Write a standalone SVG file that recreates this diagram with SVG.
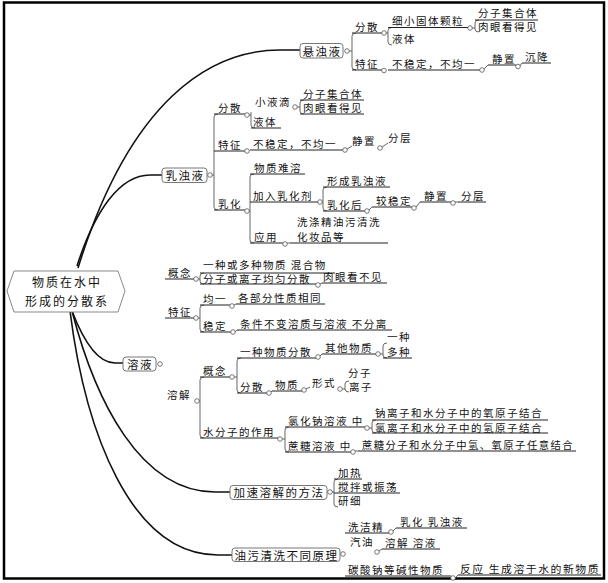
<svg xmlns="http://www.w3.org/2000/svg" width="608" height="583" viewBox="0 0 608 583">
<style>
.t{font-family:"Noto Sans CJK SC","Noto Sans",sans-serif;font-size:10.5px;letter-spacing:1.5px;fill:#111}
.b{font-size:11.5px}
.r{font-size:12px;letter-spacing:2px}
.u{stroke:#222;stroke-width:1;fill:none}
.c{stroke:#555;stroke-width:0.9;fill:none}
.h{fill:#fff;stroke:#555;stroke-width:0.8}
.bx{fill:#fff;stroke:#777;stroke-width:1}
.m{stroke:#111;stroke-width:1.6;fill:none}
</style>
<rect x="0" y="0" width="608" height="583" fill="#fff"/>
<rect x="4" y="2.5" width="600" height="576" fill="none" stroke="#000" stroke-width="2.5"/>

<g id="connectors">
  <path class="m" d="M78,268 C130,100 210,50 280,50 L300,50"/>
  <path class="m" d="M77,266 C95,210 120,175 150,175 L162,175"/>
  <path class="m" d="M72,311 C85,345 100,363 115,363 L123,363"/>
  <path class="m" d="M72,311 C95,400 140,492 215,492 L230,492"/>
  <path class="m" d="M70,311 C85,430 130,555 218,555 L232,555"/>
  <path class="c" d="M349,51 H352 M356,33 Q352,33 352,36 V67 Q352,70 356,70"/>
  <path class="c" d="M386,33 H388 M392,27.5 Q388,27.5 388,30.5 V42 Q388,45 392,45"/>
  <path class="c" d="M472,28 H475 M479,20 Q475,20 475,23 V29 Q475,32 479,32"/>
  <path class="c" d="M484,69 L488,65 M520,66 L522,63"/>
  <path class="c" d="M212,175 H214 M218,114 Q214,114 214,117 V207 Q214,210 218,210"/>
  <path class="c" d="M249,115 H251 M251,112 V125 Q251,128 255,128"/>
  <path class="c" d="M297,107 H300 M304,100 Q300,100 300,103 V111 Q300,114 304,114"/>
  <path class="c" d="M347,149 L352,146 M382,147 L388,143"/>
  <path class="c" d="M249,211 H250 M254,174 Q250,174 250,177 V240 Q250,243 254,243"/>
  <path class="c" d="M322,202 H323 M327,187 Q323,187 323,190 V208 Q323,211 327,211"/>
  <path class="c" d="M369,210 L372,207 M416,207 L420,202 M455,202 L458,202 M287,243 L290,243"/>
  <path class="c" d="M198,279 H200 M204,273 Q200,273 200,276 V281 Q200,284 204,284"/>
  <path class="c" d="M320,284 L322,283"/>
  <path class="c" d="M198,318 H200 M204,305 Q200,305 200,308 V329 Q200,332 204,332"/>
  <path class="c" d="M234,305 L236,304 M235,332 L237,330"/>
  <path class="c" d="M199,401 H200 M204,377 Q200,377 200,380 V435 Q200,438 204,438"/>
  <path class="c" d="M234,377 H237 M241,358 Q237,358 237,361 V390 Q237,393 241,393"/>
  <path class="c" d="M320,356 L322,354 M380,354 H383 M387,343 Q383,343 383,346 V355 Q383,358 387,358"/>
  <path class="c" d="M271,392 L272,391 M306,389 L310,387 M342,389 H345 M349,381 Q345,381 345,384 V389 Q345,392 349,392"/>
  <path class="c" d="M282,439 H285 M289,427 Q285,427 285,430 V449 Q285,452 289,452"/>
  <path class="c" d="M369,428 H372 M376,420 Q372,420 372,423 V430 Q372,433 376,433"/>
  <path class="c" d="M355,451 L358,451"/>
  <path class="c" d="M332,492 H334 M338,479 Q334,479 334,482 V504 Q334,507 338,507"/>
  <path class="c" d="M393,531 L396,528 M379,551 L382,549 M455,578 L458,575"/>
</g>

<g id="root">
  <polygon points="14,271 118,271 125,291 118,312 14,312 7,291" fill="#fff" stroke="#888" stroke-width="1"/>
  <text class="t r" x="67" y="287" text-anchor="middle">物质在水中</text>
  <text class="t r" x="67" y="305.5" text-anchor="middle">形成的分散系</text>
</g>

<g id="n-xzy">
  <rect class="bx" x="300" y="43.5" width="43" height="14.5" rx="3"/>
  <text class="t b" x="322" y="55.5" text-anchor="middle">悬浊液</text>
  <circle class="h" cx="347" cy="51" r="2.3"/>
</g>
<g id="n-xzy-fs"><text class="t" x="355" y="30.5">分散</text><path class="u" d="M352,33 H382"/><circle class="h" cx="384" cy="33" r="2.3"/></g>
<g id="n-xzy-kl"><text class="t" x="392" y="25">细小固体颗粒</text><path class="u" d="M388,27.5 H468"/><circle class="h" cx="470" cy="28" r="2.3"/></g>
<g id="n-xzy-fzjht"><text class="t" x="478" y="17">分子集合体</text><path class="u" d="M475,20 H538"/></g>
<g id="n-xzy-rykdj"><text class="t" x="478" y="31">肉眼看得见</text></g>
<g id="n-xzy-yt"><text class="t" x="392" y="43">液体</text></g>
<g id="n-xzy-tz"><text class="t" x="355" y="67.5">特征</text><path class="u" d="M352,70 H382"/><circle class="h" cx="384" cy="70.5" r="2.3"/></g>
<g id="n-xzy-bwd"><text class="t" x="392" y="67.5">不稳定，不均一</text><path class="u" d="M388,70 H480"/><circle class="h" cx="482" cy="70" r="2.3"/></g>
<g id="n-xzy-jz"><text class="t" x="492" y="62.5">静置</text><path class="u" d="M488,65 H516"/><circle class="h" cx="518" cy="66.5" r="2.3"/></g>
<g id="n-xzy-cj"><text class="t" x="525" y="60.5">沉降</text><path class="u" d="M522,63 H551"/></g>

<g id="n-rzy">
  <rect class="bx" x="162" y="168" width="45" height="14.5" rx="3"/>
  <text class="t b" x="185" y="180" text-anchor="middle">乳浊液</text>
  <circle class="h" cx="210" cy="175" r="2.3"/>
</g>
<g id="n-rzy-fs"><text class="t" x="218" y="111.5">分散</text><path class="u" d="M214,114 H245"/><circle class="h" cx="247" cy="115" r="2.3"/></g>
<g id="n-rzy-xyd"><text class="t" x="255" y="106">小液滴</text><circle class="h" cx="295" cy="107" r="2.3"/></g>
<g id="n-rzy-fzjht"><text class="t" x="303" y="97.5">分子集合体</text><path class="u" d="M300,100 H364"/></g>
<g id="n-rzy-rykdj"><text class="t" x="303" y="111.5">肉眼看得见</text><path class="u" d="M300,114 H364"/></g>
<g id="n-rzy-yt"><text class="t" x="253" y="125.5">液体</text><path class="u" d="M251,128 H281"/></g>
<g id="n-rzy-tz"><text class="t" x="218" y="148.5">特征</text><path class="u" d="M214,151 H245"/><circle class="h" cx="247" cy="151" r="2.3"/></g>
<g id="n-rzy-bwd"><text class="t" x="253" y="147.5">不稳定，不均一</text><path class="u" d="M250,150 H343"/><circle class="h" cx="345" cy="150" r="2.3"/></g>
<g id="n-rzy-jz"><text class="t" x="352" y="145">静置</text><circle class="h" cx="380" cy="148" r="2.3"/></g>
<g id="n-rzy-fc"><text class="t" x="388" y="142">分层</text></g>
<g id="n-rzy-rh"><text class="t" x="218" y="207.5">乳化</text><path class="u" d="M214,210 H245"/><circle class="h" cx="247" cy="211" r="2.3"/></g>
<g id="n-rzy-wznr"><text class="t" x="254" y="171.5">物质难溶</text><path class="u" d="M250,174 H305"/></g>
<g id="n-rzy-jrrhj"><text class="t" x="253" y="199.5">加入乳化剂</text><path class="u" d="M250,202 H318"/><circle class="h" cx="320" cy="202" r="2.3"/></g>
<g id="n-rzy-xcrzy"><text class="t" x="327" y="184.5">形成乳浊液</text><path class="u" d="M323,187 H390"/></g>
<g id="n-rzy-rhh"><text class="t" x="327" y="208.5">乳化后</text><path class="u" d="M323,211 H365"/><circle class="h" cx="367" cy="211" r="2.3"/></g>
<g id="n-rzy-jwd"><text class="t" x="376" y="204.5">较稳定</text><path class="u" d="M372,207 H412"/><circle class="h" cx="414" cy="208" r="2.3"/></g>
<g id="n-rzy-jz2"><text class="t" x="424" y="199.5">静置</text><path class="u" d="M420,202 H451"/><circle class="h" cx="453" cy="203" r="2.3"/></g>
<g id="n-rzy-fc2"><text class="t" x="461" y="199.5">分层</text><path class="u" d="M458,202 H486"/></g>
<g id="n-rzy-yy"><text class="t" x="254" y="240.5">应用</text><path class="u" d="M250,243 H283"/><circle class="h" cx="285" cy="244" r="2.3"/></g>
<g id="n-rzy-xdj"><text class="t" x="297" y="225.5">洗涤精油污清洗</text><text class="t" x="297" y="240.5">化妆品等</text><path class="u" d="M290,243 H388"/></g>

<g id="n-ry">
  <rect class="bx" x="123" y="357" width="33" height="14" rx="3"/>
  <text class="t b" x="140" y="368.5" text-anchor="middle">溶液</text>
  <circle class="h" cx="160" cy="364" r="2.3"/>
</g>
<g id="n-ry-gn"><text class="t" x="168" y="276.5">概念</text><path class="u" d="M165,279 H194"/><circle class="h" cx="196" cy="279" r="2.3"/></g>
<g id="n-ry-hhw"><text class="t" x="203" y="268.5">一种或多种物质  混合物</text><path class="u" d="M200,273 H335"/></g>
<g id="n-ry-jyfs"><text class="t" x="203" y="282.5">分子或离子均匀分散</text><path class="u" d="M200,284 H316"/><circle class="h" cx="318" cy="285" r="2.3"/></g>
<g id="n-ry-rykbj"><text class="t" x="323" y="281">肉眼看不见</text><path class="u" d="M322,283 H387"/></g>
<g id="n-ry-tz"><text class="t" x="168" y="315.5">特征</text><path class="u" d="M165,318 H194"/><circle class="h" cx="196" cy="318" r="2.3"/></g>
<g id="n-ry-jy"><text class="t" x="203" y="302.5">均一</text><path class="u" d="M200,305 H230"/><circle class="h" cx="232" cy="306" r="2.3"/></g>
<g id="n-ry-gbf"><text class="t" x="238" y="301.5">各部分性质相同</text><path class="u" d="M236,304 H325"/></g>
<g id="n-ry-wd"><text class="t" x="203" y="329.5">稳定</text><path class="u" d="M200,332 H231"/><circle class="h" cx="233" cy="332" r="2.3"/></g>
<g id="n-ry-tjbb"><text class="t" x="240" y="327.5">条件不变溶质与溶液 不分离</text><path class="u" d="M237,330 H392"/></g>
<g id="n-ry-rj"><text class="t" x="167" y="398.5">溶解</text><circle class="h" cx="197" cy="401" r="2.3"/></g>
<g id="n-ry-rj-gn"><text class="t" x="203" y="374.5">概念</text><path class="u" d="M200,377 H230"/><circle class="h" cx="232" cy="377" r="2.3"/></g>
<g id="n-ry-yzwzfs"><text class="t" x="240" y="355.5">一种物质分散</text><path class="u" d="M237,358 H316"/><circle class="h" cx="318" cy="357" r="2.3"/></g>
<g id="n-ry-qtwz"><text class="t" x="325" y="351.5">其他物质</text><path class="u" d="M322,354 H376"/><circle class="h" cx="378" cy="354" r="2.3"/></g>
<g id="n-ry-yz"><text class="t" x="387" y="341">一种</text></g>
<g id="n-ry-dz"><text class="t" x="387" y="355.5">多种</text><path class="u" d="M383,358 H412"/></g>
<g id="n-ry-fs"><text class="t" x="240" y="390.5">分散</text><path class="u" d="M237,393 H267"/><circle class="h" cx="269" cy="393" r="2.3"/></g>
<g id="n-ry-wz"><text class="t" x="275" y="388.5">物质</text><path class="u" d="M272,391 H302"/><circle class="h" cx="304" cy="390" r="2.3"/></g>
<g id="n-ry-xs"><text class="t" x="312" y="386.5">形式</text><circle class="h" cx="340" cy="389" r="2.3"/></g>
<g id="n-ry-fz"><text class="t" x="348" y="376.5">分子</text></g>
<g id="n-ry-lz"><text class="t" x="349" y="390.5">离子</text></g>
<g id="n-ry-sfz"><text class="t" x="203" y="435.5">水分子的作用</text><path class="u" d="M200,438 H278"/><circle class="h" cx="280" cy="439" r="2.3"/></g>
<g id="n-ry-lhn"><text class="t" x="288" y="424.5">氯化钠溶液 中</text><path class="u" d="M285,427 H365"/><circle class="h" cx="367" cy="428" r="2.3"/></g>
<g id="n-ry-nlz"><text class="t" x="375" y="417">钠离子和水分子中的氧原子结合</text><path class="u" d="M372,420 H548"/></g>
<g id="n-ry-llz"><text class="t" x="375" y="431.5">氯离子和水分子中的氢原子结合</text><path class="u" d="M372,433 H548"/></g>
<g id="n-ry-ztry"><text class="t" x="288" y="449.5">蔗糖溶液 中</text><path class="u" d="M285,452 H351"/><circle class="h" cx="353" cy="452" r="2.3"/></g>
<g id="n-ry-ztfz"><text class="t" x="362" y="448.5" textLength="212" lengthAdjust="spacingAndGlyphs">蔗糖分子和水分子中氢、氧原子任意结合</text><path class="u" d="M358,451 H576"/></g>

<g id="n-jsrj">
  <rect class="bx" x="230" y="485.5" width="97" height="14" rx="3"/>
  <text class="t b" x="279" y="497" text-anchor="middle">加速溶解的方法</text>
  <circle class="h" cx="330" cy="492" r="2.3"/>
</g>
<g id="n-jr"><text class="t" x="338" y="476.5">加热</text><path class="u" d="M334,479 H362"/></g>
<g id="n-jbzd"><text class="t" x="338" y="490.5">搅拌或振荡</text><path class="u" d="M334,493 H400"/></g>
<g id="n-yx"><text class="t" x="338" y="504.5">研细</text></g>

<g id="n-ywqx">
  <rect class="bx" x="232" y="548" width="108" height="13.5" rx="3"/>
  <text class="t b" x="286.5" y="559.5" text-anchor="middle">油污清洗不同原理</text>
  <circle class="h" cx="343" cy="554" r="2.3"/>
</g>
<g id="n-xjj"><text class="t" x="348" y="530.5">洗洁精</text><path class="u" d="M345,533 H389"/><circle class="h" cx="391" cy="532" r="2.3"/></g>
<g id="n-rh-rzy"><text class="t" x="400" y="525.5">乳化  乳浊液</text><path class="u" d="M396,528 H467"/></g>
<g id="n-qy"><text class="t" x="350" y="545.5">汽油</text><circle class="h" cx="377" cy="552" r="2.3"/></g>
<g id="n-rj-ry"><text class="t" x="385" y="546.5">溶解  溶液</text><path class="u" d="M382,549 H440"/></g>
<g id="n-tsn"><text class="t" x="348" y="573.5">碳酸钠等碱性物质</text><path class="u" d="M345,576 H451"/><circle class="h" cx="453" cy="578" r="2.3"/></g>
<g id="n-fy"><text class="t" x="460" y="572.5" textLength="140" lengthAdjust="spacingAndGlyphs">反应  生成溶于水的新物质</text><path class="u" d="M458,575 H601"/></g>
</svg>
